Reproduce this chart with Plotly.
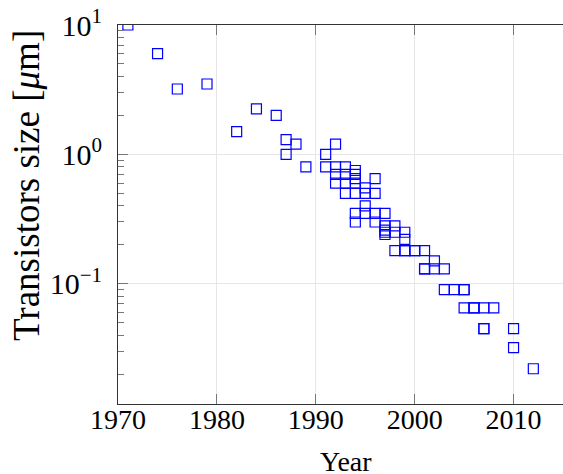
import plotly.graph_objects as go

years = [1971, 1974, 1976, 1979, 1982, 1984, 1986, 1987, 1987, 1988, 1989,
         1991, 1991,
         1992, 1992, 1992, 1992,
         1993, 1993, 1993, 1993,
         1994, 1994, 1994, 1994, 1994, 1994, 1994,
         1995, 1995, 1995, 1995,
         1996, 1996, 1996, 1996,
         1997, 1997, 1997, 1997, 1997,
         1998, 1998, 1998,
         1999, 1999, 1999, 1999,
         2000, 2000,
         2001, 2001, 2001,
         2002, 2002,
         2003, 2003,
         2004,
         2005, 2005, 2005,
         2006, 2006,
         2007, 2007, 2007,
         2008,
         2010, 2010,
         2012]

sizes_um = [10, 6, 3.2, 3.5, 1.5, 2.25, 2.0, 1.3, 1.0, 1.2, 0.8,
            1.0, 0.8,
            1.2, 0.8, 0.7, 0.6,
            0.8, 0.7, 0.6, 0.5,
            0.75, 0.7, 0.65, 0.6, 0.5, 0.35, 0.3,
            0.55, 0.5, 0.4, 0.35,
            0.65, 0.5, 0.35, 0.3,
            0.35, 0.28, 0.26, 0.25, 0.24,
            0.28, 0.25, 0.18,
            0.25, 0.22, 0.18, 0.18,
            0.18, 0.18,
            0.18, 0.13, 0.13,
            0.15, 0.13,
            0.13, 0.09,
            0.09,
            0.09, 0.09, 0.065,
            0.065, 0.065,
            0.065, 0.045, 0.045,
            0.065,
            0.045, 0.032,
            0.022]

x_ticks = [1970, 1980, 1990, 2000, 2010]
y_ticks = [0.1, 1, 10]
y_ticktext = ["10<sup>\u22121</sup>", "10<sup>0</sup>", "10<sup>1</sup>"]

FONT = "'Liberation Serif', 'DejaVu Serif', serif"

minor_vals = [m * 10.0 ** e for e in (-2, -1, 0) for m in range(2, 10)]

fig = go.Figure()
fig.add_trace(go.Scatter(
    x=years, y=sizes_um, mode="markers",
    marker=dict(symbol="square-open", size=10, color="#0000ff",
                line=dict(width=1.2, color="#0000ff")),
    showlegend=False,
))

fig.update_layout(
    width=563, height=474,
    margin=dict(l=118, r=0, t=25, b=70),
    paper_bgcolor="white", plot_bgcolor="white",
    font=dict(family=FONT, size=28, color="black"),
    xaxis=dict(
        range=[1970, 2015], tickvals=x_ticks,
        ticks="inside", ticklen=10, tickcolor="#777", tickwidth=1,
        showline=True, linecolor="#333", linewidth=1, mirror="ticks",
        showgrid=True, gridcolor="#e6e6e6", gridwidth=1, zeroline=False,
        tickfont=dict(family=FONT, size=28, color="black"),
        ticklabelstandoff=-10,
    ),
    yaxis=dict(
        type="log", range=[-1.93, 1],
        tickvals=y_ticks, ticktext=y_ticktext,
        ticks="inside", ticklen=10, tickcolor="#777", tickwidth=1,
        showline=True, linecolor="#333", linewidth=1, mirror=False,
        showgrid=True, gridcolor="#e6e6e6", gridwidth=1, zeroline=False,
        tickfont=dict(family=FONT, size=30, color="black"),
        ticklabelstandoff=9,
        minor=dict(tickvals=minor_vals, ticks="inside", ticklen=6,
                   tickcolor="#777", tickwidth=1, showgrid=False),
    ),
    annotations=[
        dict(text="Year", xref="paper", yref="paper", x=0.512, y=-0.153,
             showarrow=False, font=dict(family=FONT, size=28, color="black"),
             xanchor="center", yanchor="middle"),
        dict(text="Transistors size [<i>\u03bc</i>m]", xref="paper", yref="paper",
             x=-0.2045, y=0.578, textangle=-90, showarrow=False,
             font=dict(family=FONT, size=37, color="black"),
             xanchor="center", yanchor="middle"),
    ],
)

fig.write_html("out.html")
